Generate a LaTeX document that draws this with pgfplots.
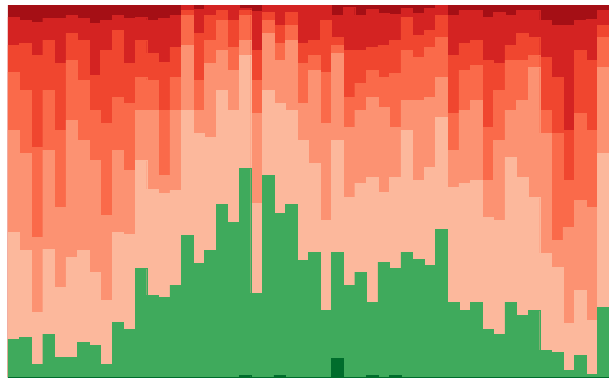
\documentclass[border=0pt]{standalone}
\usepackage{pgfplots}
\usepackage{pgfplotstable}
\pgfplotsset{compat=1.18}
\definecolor{cA}{HTML}{A50F15}
\definecolor{cB}{HTML}{D42322}
\definecolor{cC}{HTML}{F0462F}
\definecolor{cD}{HTML}{FA6A4A}
\definecolor{cE}{HTML}{FC9272}
\definecolor{cF}{HTML}{FCB89C}
\definecolor{cG}{HTML}{3FAA5C}
\definecolor{cH}{HTML}{006D2C}
\pgfplotstableread{
x full t5 t4 t3 t2 t1 tg tdg
0 372 360 332 305 247 145 38 0
1 372 357 334 287 224 127 40 0
2 372 355 322 230 140 65 13 0
3 372 359 337 287 227 128 43 0
4 372 359 314 247 170 90 20 0
5 372 362 344 317 257 120 20 0
6 372 359 337 297 237 127 35 0
7 372 354 302 267 217 105 32 0
8 372 357 327 254 162 77 13 0
9 372 362 347 280 227 145 55 0
10 372 359 314 274 207 143 48 0
11 372 360 337 300 267 217 109 0
12 372 357 324 297 267 188 82 0
13 372 359 315 267 202 184 80 0
14 372 362 330 300 267 187 92 0
15 372 372 367 362 332 267 142 0
16 372 368 344 297 267 244 114 0
17 372 372 362 337 314 240 127 0
18 372 372 367 357 327 287 173 0
19 372 372 357 330 307 267 155 0
20 372 369 367 362 337 322 209 2
21 372 366 327 297 264 174 84 0
22 372 372 365 357 344 287 202 0
23 372 372 352 334 317 274 164 2
24 372 372 365 352 337 267 173 0
25 372 372 334 314 274 237 117 0
26 372 372 337 322 307 214 125 0
27 372 372 357 305 254 157 67 0
28 372 362 340 332 324 237 125 19
29 372 370 327 280 250 180 92 0
30 372 362 327 294 267 194 105 0
31 372 368 330 307 280 200 75 2
32 372 364 332 300 270 185 115 0
33 372 363 337 304 250 200 109 2
34 372 369 360 327 277 247 125 0
35 372 364 342 320 277 197 118 0
36 372 369 347 330 280 210 112 0
37 372 372 362 340 300 260 148 0
38 372 362 322 264 227 190 75 0
39 372 367 334 307 267 194 67 0
40 372 367 337 312 277 197 75 0
41 372 360 317 250 197 160 48 0
42 372 365 314 287 237 157 43 0
43 372 362 332 317 267 220 75 0
44 372 367 344 317 277 200 62 0
45 372 367 340 322 310 180 67 0
46 372 357 320 267 244 124 27 0
47 372 352 300 244 137 110 25 0
48 372 352 247 197 150 54 7 0
49 372 357 327 264 177 87 22 0
50 372 358 317 247 170 57 3 0
51 372 367 352 340 310 224 70 0
}\data
\begin{document}
\begin{tikzpicture}
\path[use as bounding box] (0,0) rectangle (304.5pt,188.5pt);
\begin{axis}[at={(4pt,0pt)}, anchor=south west, scale only axis,
  width=300.5pt, height=186pt, hide axis,
  xmin=-0.5, xmax=51.5, ymin=0, ymax=372,
  lay/.style={ybar, bar width=1, bar shift=0pt, fill=#1, draw=#1, line width=0.15pt}]
\addplot[lay=cA] table[x=x,y=full]{\data};
\addplot[lay=cB] table[x=x,y=t5]{\data};
\addplot[lay=cC] table[x=x,y=t4]{\data};
\addplot[lay=cD] table[x=x,y=t3]{\data};
\addplot[lay=cE] table[x=x,y=t2]{\data};
\addplot[lay=cF] table[x=x,y=t1]{\data};
\addplot[lay=cG] table[x=x,y=tg]{\data};
\addplot[lay=cH] table[x=x,y=tdg]{\data};
\end{axis}
\end{tikzpicture}
\end{document}
